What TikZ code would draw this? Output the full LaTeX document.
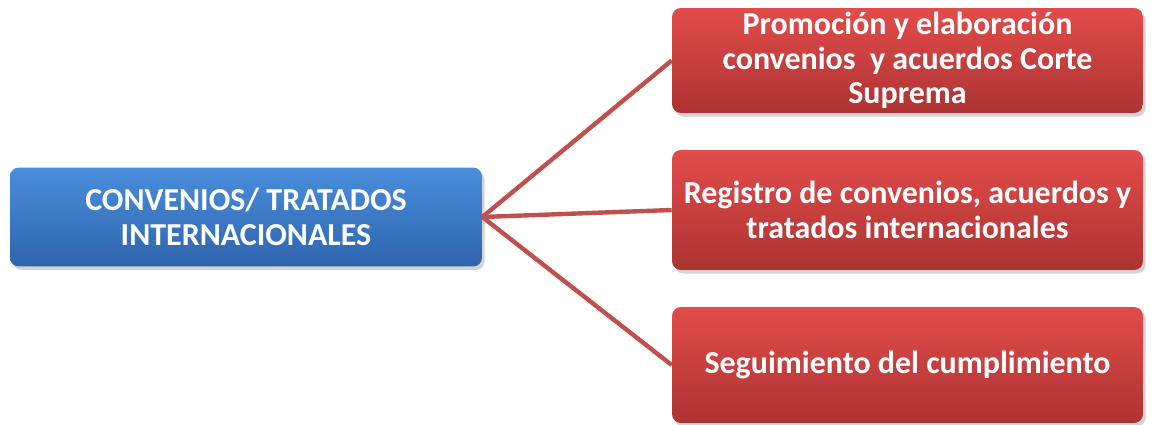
\documentclass[tikz,border=0pt]{standalone}
\usepackage{fontspec}
\setmainfont{Carlito}
\usetikzlibrary{shadows}
\definecolor{linea}{HTML}{C0504D}
\definecolor{azularriba}{HTML}{4A8EDC}
\definecolor{azulabajo}{HTML}{2E64AC}
\definecolor{rojoarriba}{HTML}{E24C4B}
\definecolor{rojoabajo}{HTML}{AC3331}

\begin{document}
\begin{tikzpicture}[x=0.02cm,y=-0.02cm,
	caja/.style={draw=none,rounded corners=5pt,align=center,text=white,
		font=\bfseries\fontsize{18.2}{19.5}\selectfont,inner sep=0pt,
		drop shadow={shadow xshift=1.5pt,shadow yshift=-2pt,opacity=0.35}},
	azul/.style={caja,top color=azularriba,bottom color=azulabajo,
		minimum width=9.44cm,minimum height=1.98cm},
	rojo/.style={caja,top color=rojoarriba,bottom color=rojoabajo,
		minimum width=9.42cm},
	rama/.style={draw=linea,line width=2.5pt}]
\useasboundingbox (0,0) rectangle (1151,425);

%boxes
\node[azul] (conv) at (246,217) {CONVENIOS/ TRATADOS\\INTERNACIONALES};
\node[rojo,minimum height=2.1cm] (prom) at (907.5,60.5) {Promoción y elaboración\\convenios\ \ y acuerdos Corte\\Suprema};
\node[rojo,minimum height=2.4cm] (reg) at (907.5,210) {Registro de convenios, acuerdos y\\tratados internacionales};
\node[rojo,minimum height=2.32cm] (seg) at (907.5,365) {Seguimiento del cumplimiento};

%branches
\foreach \b in {prom,reg,seg}
	\draw[rama] (conv.east) -- (\b.west);
\end{tikzpicture}
\end{document}
